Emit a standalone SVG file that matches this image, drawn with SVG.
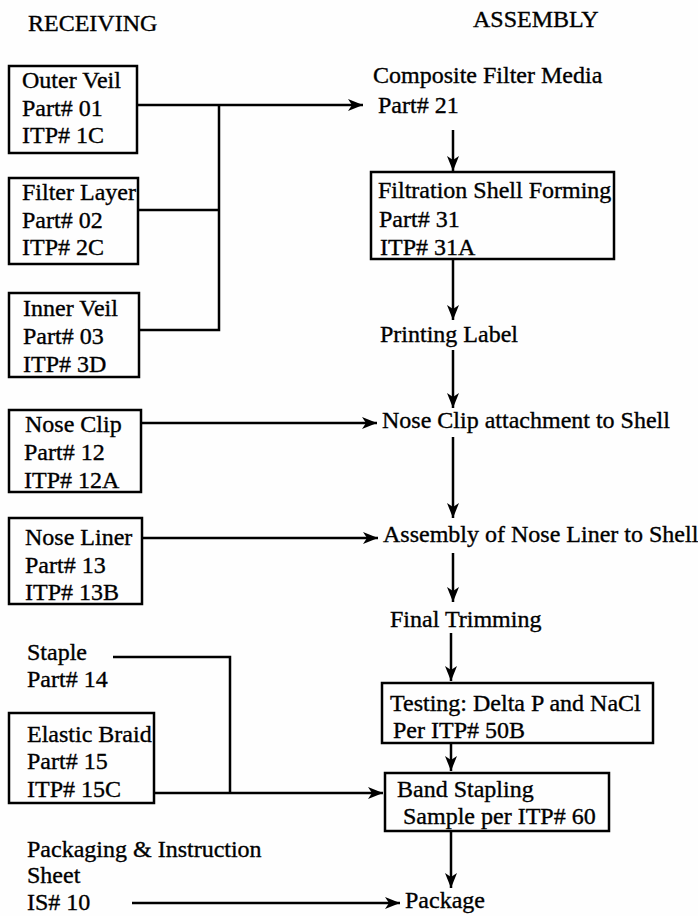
<svg xmlns="http://www.w3.org/2000/svg" width="698" height="916" viewBox="0 0 698 916">
<style>
text{font-family:"Liberation Serif","Times New Roman",serif;font-size:24px;fill:#000;stroke:#000;stroke-width:0.35}
.box{fill:none;stroke:#000;stroke-width:2.5}
.ln{fill:none;stroke:#000;stroke-width:2.5}
</style>
<defs>
<marker id="ah" markerUnits="userSpaceOnUse" markerWidth="16" markerHeight="12" refX="15" refY="6" orient="auto">
<path d="M0,0 L15,6 L0,12 L4,6 Z" fill="#000"/>
</marker>
</defs>
<rect width="698" height="916" fill="#fefefe"/>
<text x="28" y="31">RECEIVING</text>
<text x="473" y="27">ASSEMBLY</text>

<g id="outer-veil"><rect class="box" x="9" y="66" width="128" height="87"/><text x="22" y="88">Outer Veil</text><text x="22" y="116">Part# 01</text><text x="22" y="143">ITP# 1C</text></g>
<g id="filter-layer"><rect class="box" x="9" y="178" width="129" height="86"/><text x="22" y="200">Filter Layer</text><text x="22" y="228">Part# 02</text><text x="22" y="255">ITP# 2C</text></g>
<g id="inner-veil"><rect class="box" x="9" y="293" width="130" height="84"/><text x="23" y="316">Inner Veil</text><text x="23" y="344">Part# 03</text><text x="23" y="372">ITP# 3D</text></g>
<g id="nose-clip"><rect class="box" x="9" y="410" width="132" height="82"/><text x="25" y="432">Nose Clip</text><text x="24" y="460">Part# 12</text><text x="24" y="488">ITP# 12A</text></g>
<g id="nose-liner"><rect class="box" x="9" y="518" width="133" height="86"/><text x="25" y="545">Nose Liner</text><text x="25" y="573">Part# 13</text><text x="25" y="600">ITP# 13B</text></g>
<g id="staple"><text x="27" y="660">Staple</text><text x="27" y="687">Part# 14</text></g>
<g id="elastic-braid"><rect class="box" x="9" y="713" width="145" height="90"/><text x="27" y="742">Elastic Braid</text><text x="27" y="769">Part# 15</text><text x="27" y="797">ITP# 15C</text></g>
<g id="packaging"><text x="27" y="857">Packaging &amp; Instruction</text><text x="27" y="883">Sheet</text><text x="27" y="910">IS# 10</text></g>

<g id="composite"><text x="373" y="83">Composite Filter Media</text><text x="378" y="113">Part# 21</text></g>
<g id="filtration-shell"><rect class="box" x="371" y="172" width="243" height="87"/><text x="378" y="198">Filtration Shell Forming</text><text x="379" y="227">Part# 31</text><text x="380" y="255">ITP# 31A</text></g>
<g id="printing-label"><text x="380" y="342">Printing Label</text></g>
<g id="nose-clip-attach"><text x="382" y="428">Nose Clip attachment to Shell</text></g>
<g id="nose-liner-assembly"><text x="383" y="542">Assembly of Nose Liner to Shell</text></g>
<g id="final-trimming"><text x="390" y="627">Final Trimming</text></g>
<g id="testing"><rect class="box" x="382" y="683" width="271" height="60"/><text x="390" y="711">Testing: Delta P and NaCl</text><text x="393" y="738">Per ITP# 50B</text></g>
<g id="band-stapling"><rect class="box" x="385" y="773" width="224" height="58"/><text x="397" y="797">Band Stapling</text><text x="403" y="824">Sample per ITP# 60</text></g>
<g id="package"><text x="405" y="908">Package</text></g>

<g id="connectors">
<path class="ln" d="M137,105 H363" marker-end="url(#ah)"/>
<path class="ln" d="M138,210 H219"/>
<path class="ln" d="M139,330 H219 V105"/>
<path class="ln" d="M453,130 V171" marker-end="url(#ah)"/>
<path class="ln" d="M453,259 V320" marker-end="url(#ah)"/>
<path class="ln" d="M453,350 V408" marker-end="url(#ah)"/>
<path class="ln" d="M141,423 H377" marker-end="url(#ah)"/>
<path class="ln" d="M453,437 V518" marker-end="url(#ah)"/>
<path class="ln" d="M142,538 H378" marker-end="url(#ah)"/>
<path class="ln" d="M453,553 V602" marker-end="url(#ah)"/>
<path class="ln" d="M451,633 V681" marker-end="url(#ah)"/>
<path class="ln" d="M451,743 V771" marker-end="url(#ah)"/>
<path class="ln" d="M113,657 H230 V793"/>
<path class="ln" d="M154,793 H383" marker-end="url(#ah)"/>
<path class="ln" d="M451,831 V888" marker-end="url(#ah)"/>
<path class="ln" d="M132,903 H400" marker-end="url(#ah)"/>
</g>
</svg>
